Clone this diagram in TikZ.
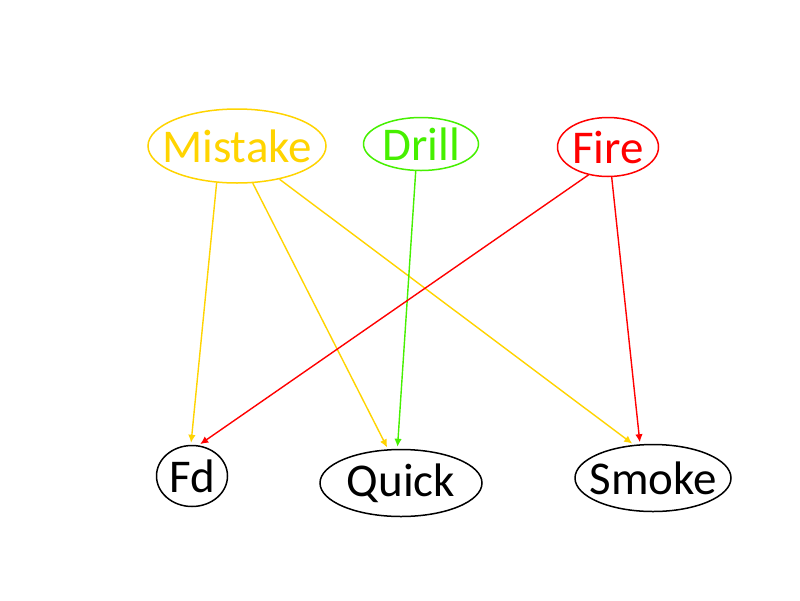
\documentclass[tikz,border=0pt]{standalone}
\usepackage{fontspec}
\setmainfont{Carlito}
\usetikzlibrary{shapes.geometric,arrows.meta}
\definecolor{cyel}{RGB}{255,212,0}
\definecolor{cgrn}{RGB}{70,240,0}
\definecolor{cred}{RGB}{255,0,0}
\begin{document}
\begin{tikzpicture}[x=1pt,y=-1pt,
  nd/.style={ellipse,draw,line width=1.5pt,inner sep=0pt},
  lb/.style={font=\fontsize{47}{50}\selectfont,inner sep=0pt},
  ed/.style={line width=1.4pt,-{Latex[length=8pt,width=7.5pt]},shorten >=2pt}]
\useasboundingbox[fill=white] (0,0) rectangle (800,600);
\node[nd,cyel,minimum width=178pt,minimum height=74pt,label={[lb,text=cyel]center:Mistake}] (mistake) at (237,146) {};
\node[nd,cgrn,minimum width=115pt,minimum height=53pt,label={[lb,text=cgrn]center:Drill}] (drill) at (421,144) {};
\node[nd,cred,minimum width=101pt,minimum height=59pt,label={[lb,text=cred]center:Fire}] (fire) at (608,147) {};
\node[nd,black,minimum width=71pt,minimum height=61pt,label={[lb]center:Fd}] (fd) at (192,476) {};
\node[nd,black,minimum width=162pt,minimum height=67pt,label={[lb]center:Quick}] (quick) at (401,483) {};
\node[nd,black,minimum width=156pt,minimum height=67pt,label={[lb]center:Smoke}] (smoke) at (653,478) {};
\draw[ed,cyel] (mistake.241) -- (fd.92);
\draw[ed,cyel] (mistake.293.6) -- (quick.111);
\draw[ed,cyel] (mistake.322.5) -- (smoke.120.7);
\draw[ed,cgrn] (drill.259.5) -- (quick.96.7);
\draw[ed,cred] (fire.235) -- (fd.78);
\draw[ed,cred] (fire.277) -- (smoke.111.8);
\end{tikzpicture}
\end{document}
